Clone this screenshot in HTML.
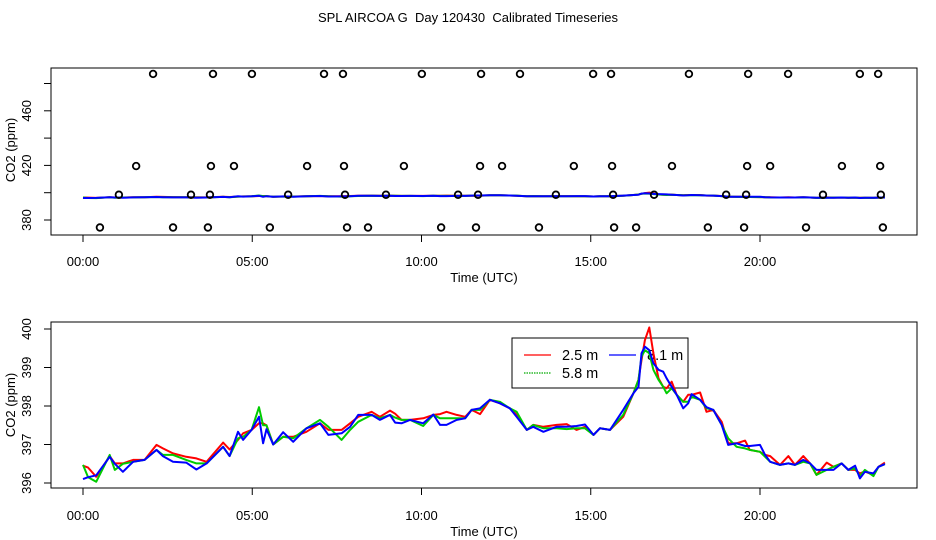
<!DOCTYPE html>
<html><head><meta charset="utf-8"><style>
body{margin:0;background:#fff;}
svg{display:block;font-family:"Liberation Sans",sans-serif;}
#title{white-space:pre;}
</style></head><body>
<svg id="chart" width="936" height="540" viewBox="0 0 936 540">
<text id="title" x="468" y="22" text-anchor="middle" font-size="13">SPL AIRCOA G  Day 120430  Calibrated Timeseries</text>
<g id="topPanel"></g>
<g id="botPanel"></g>
</svg>
<script>
const times=[0,0.15,0.39,0.79,0.94,1.18,1.48,1.82,2.17,2.36,2.66,3.05,3.35,3.65,4.14,4.33,4.58,4.73,4.98,5.2,5.32,5.42,5.62,5.91,6.21,6.6,7.0,
7.25,7.64,7.89,8.13,8.53,8.77,9.07,9.22,9.41,9.66,10.05,10.35,10.55,10.74,11.04,11.29,11.48,11.73,12.02,12.32,12.61,12.81,13.11,13.3,13.6,13.99,14.29,14.58,14.83,15.08,15.27,15.57,
15.96,16.26,16.41,16.5,16.6,16.73,16.85,17.0,17.14,17.24,17.39,17.54,17.73,17.88,17.98,18.23,18.42,18.62,18.87,19.06,19.31,19.56,19.7,20.0,20.15,20.3,20.59,20.84,21.03,21.28,21.48,21.67,21.97,22.17,22.41,22.61,22.81,22.95,23.1,23.35,23.5,23.69];
const red=[396.45,396.4,396.16,396.7,396.51,396.51,396.6,396.6,396.99,396.9,396.77,396.68,396.64,396.55,397.05,396.87,397.12,397.29,397.38,397.55,397.55,397.5,397.0,397.2,397.2,397.33,397.55,
397.38,397.38,397.55,397.72,397.85,397.72,397.88,397.8,397.64,397.64,397.68,397.77,397.79,397.85,397.77,397.72,397.9,397.79,398.16,398.07,397.94,397.77,397.38,397.51,397.46,397.51,397.53,397.38,397.46,397.25,397.42,397.38,
397.72,398.33,398.68,399.19,399.71,400.04,399.37,398.72,398.5,398.46,398.63,398.29,398.11,398.29,398.29,398.35,397.85,397.9,397.59,397.03,397.03,397.1,396.86,396.81,396.73,396.7,396.47,396.7,396.47,396.7,396.51,396.21,396.53,396.42,396.51,396.34,396.34,396.25,396.3,396.21,396.42,396.53];
const green=[396.47,396.15,396.03,396.73,396.34,396.5,396.55,396.6,396.86,396.73,396.73,396.6,396.51,396.51,396.94,396.7,397.16,397.2,397.38,397.97,397.5,397.5,397.0,397.2,397.16,397.42,397.64,
397.46,397.12,397.38,397.59,397.77,397.68,397.77,397.7,397.64,397.64,397.48,397.77,397.68,397.68,397.68,397.68,397.9,397.9,398.16,398.11,397.94,397.85,397.38,397.51,397.42,397.42,397.4,397.42,397.42,397.25,397.42,397.38,
397.77,398.33,398.68,399.28,399.45,399.37,398.94,398.68,398.5,398.33,398.46,398.29,398.11,398.11,398.24,398.16,397.94,397.9,397.51,397.16,396.94,396.9,396.86,396.81,396.68,396.55,396.47,396.51,396.47,396.55,396.51,396.21,396.34,396.42,396.51,396.34,396.38,396.18,396.34,396.18,396.42,396.49];
const blue=[396.1,396.15,396.2,396.68,396.5,396.29,396.55,396.6,396.86,396.7,396.55,396.53,396.35,396.51,396.94,396.7,397.33,397.12,397.38,397.72,397.03,397.4,397.0,397.32,397.07,397.42,397.55,
397.25,397.29,397.46,397.77,397.77,397.64,397.77,397.57,397.55,397.64,397.55,397.78,397.51,397.51,397.64,397.68,397.9,397.94,398.16,398.07,397.94,397.72,397.38,397.46,397.33,397.46,397.46,397.48,397.52,397.25,397.42,397.38,
397.9,398.33,398.5,399.37,399.54,399.45,399.11,398.94,398.89,398.72,398.5,398.29,397.94,398.07,398.31,398.16,397.97,397.9,397.51,396.99,397.03,396.96,396.96,396.99,396.73,396.55,396.47,396.51,396.47,396.6,396.51,396.34,396.34,396.34,396.51,396.34,396.45,396.12,396.29,396.25,396.42,396.49];
const circleTop=[2.07,3.84,4.99,7.12,7.68,10.01,11.76,12.91,15.07,15.6,17.9,19.65,20.83,22.95,23.49];
const circle419=[1.57,3.78,4.46,6.62,7.71,9.48,11.73,12.38,14.5,15.63,17.4,19.62,20.3,22.42,23.55];
const circle398=[1.06,3.19,3.75,6.06,7.74,8.95,11.08,11.67,13.97,15.66,16.87,19.0,19.59,21.86,23.57];
const circle374=[0.5,2.66,3.69,5.52,7.8,8.42,10.58,11.61,13.47,15.69,16.34,18.46,19.53,21.36,23.63];
const circleLevels=[487,419.5,398.5,374.5];
const xTicks=[0,5,10,15,20];
const xTickLabels=["00:00","05:00","10:00","15:00","20:00"];
const topYTicks=[380,400,420,440,460,480];
const topYLabels=["380","","420","","460",""];
const botYTicks=[396,397,398,399,400];
const botYLabels=["396","397","398","399","400"];

const NS="http://www.w3.org/2000/svg";
function mk(p,tag,at){const e=document.createElementNS(NS,tag);for(const k in at)e.setAttribute(k,at[k]);p.appendChild(e);return e;}
const X=t=>83+33.85*t;
const topY=v=>220-(v-380)*1.365;
const botY=v=>483-(v-396)*38.5;

function panel(g,y0,y1,Y,ticks,labels,labelX,xlabY,titleY,prefix){
  const box=mk(g,'rect',{x:51,y:y0,width:866,height:y1-y0,fill:'none',stroke:'#000','stroke-width':1});
  
  
  xTicks.forEach((t,i)=>{
    const l=mk(g,'line',{x1:X(t),x2:X(t),y1:y1,y2:y1+7,stroke:'#000'});
    
    
    const tx=mk(g,'text',{x:X(t),y:xlabY,'text-anchor':'middle','font-size':13});
    
    
    tx.textContent=xTickLabels[i];
  });
  ticks.forEach((v,i)=>{
    const l=mk(g,'line',{x1:44,x2:51,y1:Y(v),y2:Y(v),stroke:'#000'});
    
    
    if(labels[i]){
      const tx=mk(g,'text',{x:labelX,y:Y(v),'text-anchor':'middle','font-size':13,transform:`rotate(-90 ${labelX} ${Y(v)})`});
      
      
      tx.textContent=labels[i];
    }
  });
  const xt=mk(g,'text',{x:484,y:xlabY+16,'text-anchor':'middle','font-size':13});
  
  
  xt.textContent='Time (UTC)';
  const yt=mk(g,'text',{x:15,y:titleY,'text-anchor':'middle','font-size':13,transform:`rotate(-90 15 ${titleY})`});
  
  
  yt.textContent='CO2 (ppm)';
}
function series(g,Y,name){
  [[red,'#f00'],[green,'#0c0'],[blue,'#00f']].forEach(([arr,c],k)=>{
    const d=arr.map((v,i)=>(i?'L':'M')+X(times[i]).toFixed(1)+' '+Y(v).toFixed(1)).join('');
    const p=mk(g,'path',{d:d,fill:'none',stroke:c,'stroke-width':2,'stroke-linejoin':'round'});
    
    
  });
}
const topG=document.getElementById('topPanel'),botG=document.getElementById('botPanel');
panel(topG,68,235,topY,topYTicks,topYLabels,31,266,150,'top');
series(topG,topY,'top');
[circleTop,circle419,circle398,circle374].forEach((arr,r)=>{
  arr.forEach(t=>{
    const c=mk(topG,'circle',{cx:X(t),cy:topY(circleLevels[r]),r:3.3,fill:'none',stroke:'#000','stroke-width':1.8});
    
    
  });
});
panel(botG,322,488,botY,botYTicks,botYLabels,31,520,405,'bottom');
const lg=mk(botG,'g',{});


mk(lg,'rect',{x:512,y:338,width:176,height:50,fill:'#fff',stroke:'#000'});
const le=[["2.5 m",'#f00',524,355,''],["5.8 m",'#0a0',524,373,'1.5 1'],["8.1 m",'#00f',609,355,'']];
le.forEach(([t,c,x,y,da])=>{
  const g2=mk(lg,'g',{});
  
  
  mk(g2,'line',{x1:x,x2:x+27,y1:y,y2:y,stroke:c,'stroke-width':1.2,'stroke-dasharray':da});
  const tx=mk(g2,'text',{x:x+38,y:y+5,'font-size':14.5});
  tx.textContent=t;
});
series(botG,botY,'bottom');
</script>
</body></html>
